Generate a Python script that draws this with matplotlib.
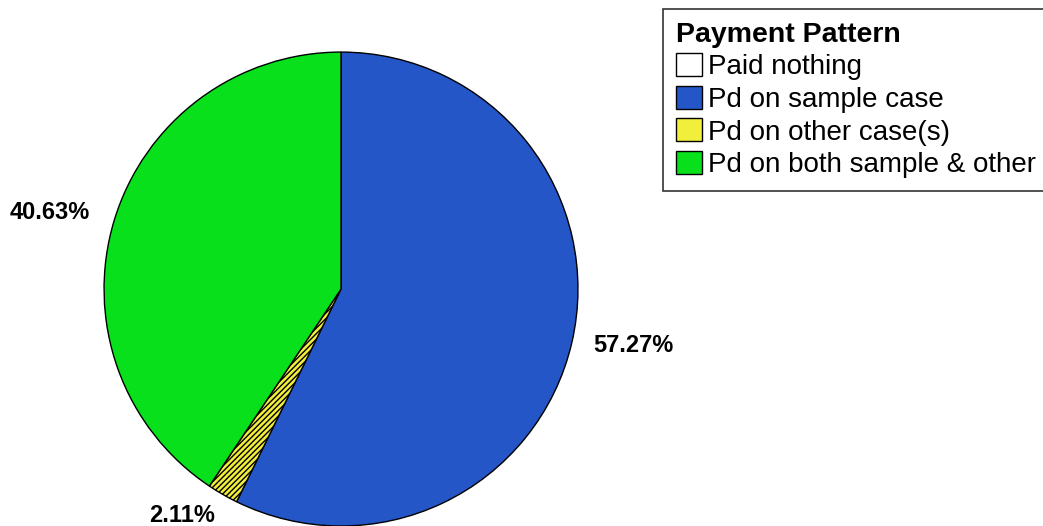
import matplotlib
matplotlib.use("Agg")
import matplotlib.pyplot as plt
import numpy as np

# payment pattern shares (percent of cases)
categories = ["Paid nothing", "Pd on sample case", "Pd on other case(s)",
              "Pd on both sample & other"]
shares = [0.0, 57.27, 2.11, 40.63]
colors = ["#FFFFFF", "#2456C8", "#F2EE3C", "#08E01C"]
hatches = [None, None, "//////", None]

# where each percentage label sits, as (radius factor, angle in degrees)
label_spots = [None, (1.255, -11.0), (1.166, -125.1), (1.269, 165.3)]

plt.rcParams["font.family"] = ["Liberation Sans", "DejaVu Sans"]

fig = plt.figure(figsize=(10.43, 5.26), dpi=100)
ax = fig.add_axes([0.0997, 0.0, 0.4545, 0.901])

wedges, _ = ax.pie(shares, colors=colors, startangle=90, counterclock=False,
                   wedgeprops=dict(edgecolor="black", linewidth=1.0))
for w, h in zip(wedges, hatches):
    if h:
        w.set_hatch(h)
ax.set_xlim(-1, 1)
ax.set_ylim(-1, 1)
ax.set_aspect("equal")

for val, spot in zip(shares, label_spots):
    if spot is None or val <= 0:
        continue
    r, ang = spot
    x, y = r * np.cos(np.radians(ang)), r * np.sin(np.radians(ang))
    ax.text(x, y, f"{val:.2f}%", ha="center", va="center", fontsize=17,
            fontweight="bold", clip_on=False)

leg = fig.legend(wedges, categories, title="Payment Pattern", loc="upper left",
                 bbox_to_anchor=(663 / 1043, 1 - 9 / 526), fontsize=20,
                 title_fontproperties={"weight": "bold", "size": 20.5},
                 frameon=True, fancybox=False, borderaxespad=0, borderpad=0.45,
                 labelspacing=0.2, handlelength=0.95, handleheight=0.9,
                 handletextpad=0.22, alignment="left")
leg.get_frame().set_edgecolor("black")
leg.get_frame().set_linewidth(1.2)
for h in leg.legend_handles:
    h.set_edgecolor("black")
    h.set_linewidth(1.0)
    h.set_hatch(None)

fig.savefig("out.png", dpi=100)
